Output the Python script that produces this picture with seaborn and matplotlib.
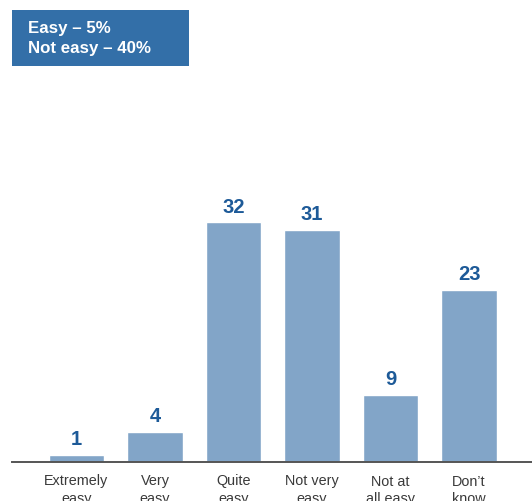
import matplotlib
matplotlib.use("Agg")
import matplotlib.pyplot as plt
import seaborn as sns
import pandas as pd
from matplotlib.patches import Rectangle

categories = ["Extremely\neasy", "Very\neasy", "Quite\neasy", "Not very\neasy", "Not at\nall easy", "Don\u2019t\nknow"]
values = [1, 4, 32, 31, 9, 23]
summary_lines = ["Easy \u2013 5%", "Not easy \u2013 40%"]

sns.set_theme(style="white")
plt.rcParams["font.family"] = ["Liberation Sans", "DejaVu Sans"]

df = pd.DataFrame({"category": categories, "value": values})

fig = plt.figure(figsize=(5.32, 5.01), dpi=100)
ax = fig.add_axes([12 / 532, 39 / 501, 1 - 12 / 532, 392 / 501])

sns.barplot(data=df, x="category", y="value", color="#82A5C8", saturation=1,
            width=0.71, ax=ax)

ax.set_xlim(-0.82, 5.80)
ax.set_ylim(0, 52.3)

for i, v in enumerate(values):
    ax.text(i, v + 0.75, str(v), ha="center", va="bottom", fontsize=14.5,
            fontweight="bold", color="#1D5A98")

for side in ["top", "right", "left"]:
    ax.spines[side].set_visible(False)
ax.spines["bottom"].set_color("#555555")
ax.spines["bottom"].set_linewidth(1.4)
ax.set_yticks([])
ax.set_xlabel("")
ax.set_ylabel("")
ax.tick_params(axis="x", length=0, pad=9, labelsize=10.4, labelcolor="#3a3a3a")
for lbl in ax.get_xticklabels():
    lbl.set_linespacing(1.3)

# summary box in the top-left corner
fig.patches.append(Rectangle((12 / 532, 1 - 66 / 501), 177 / 532, 56 / 501,
                             transform=fig.transFigure, facecolor="#336FA8",
                             edgecolor="none"))
fig.text(28 / 532, 1 - 28 / 501, summary_lines[0], color="white", fontsize=12.2,
         fontweight="bold", va="center", ha="left")
fig.text(28 / 532, 1 - 48 / 501, summary_lines[1], color="white", fontsize=12.2,
         fontweight="bold", va="center", ha="left")

fig.savefig("out.png", dpi=100)
